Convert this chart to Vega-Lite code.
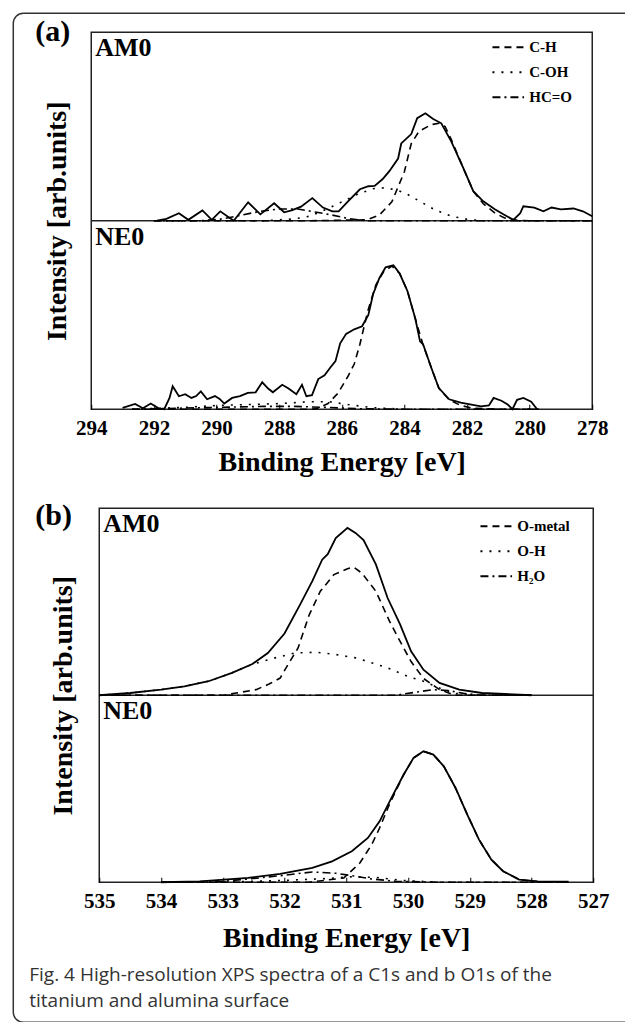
{
"$schema": "https://vega.github.io/schema/vega-lite/v6.json",
"padding": {"left": 11.25, "top": 11.25, "right": -16.75, "bottom": 0.25},
"autosize": {"type": "pad"},
"bounds": "flush",
"spacing": 99,
"resolve": {"scale": {"strokeDash": "independent"}, "legend": {"strokeDash": "independent"}},
"config": {
  "view": {"stroke": "#222", "strokeWidth": 1.5},
  "axis": {"grid": false},
  "font": "Liberation Serif"
},
"datasets": {
"aTot": [
{"s":"AM0","e":291.9,"y":1.0},{"s":"AM0","e":291.6,"y":1.01},{"s":"AM0","e":291.2,"y":1.04},{"s":"AM0","e":290.9,"y":1.005},{"s":"AM0","e":290.45,"y":1.055},{"s":"AM0","e":290.15,"y":1.005},{"s":"AM0","e":289.88,"y":1.05},{"s":"AM0","e":289.45,"y":1.0},{"s":"AM0","e":288.99,"y":1.098},{"s":"AM0","e":288.6,"y":1.034},{"s":"AM0","e":288.16,"y":1.093},{"s":"AM0","e":287.84,"y":1.045},{"s":"AM0","e":287.6,"y":1.055},{"s":"AM0","e":287.3,"y":1.075},{"s":"AM0","e":286.94,"y":1.12},{"s":"AM0","e":286.6,"y":1.07},{"s":"AM0","e":286.3,"y":1.05},{"s":"AM0","e":286.1,"y":1.05},{"s":"AM0","e":285.8,"y":1.103},{"s":"AM0","e":285.42,"y":1.167},{"s":"AM0","e":285.15,"y":1.183},{"s":"AM0","e":284.95,"y":1.185},{"s":"AM0","e":284.7,"y":1.22},{"s":"AM0","e":284.48,"y":1.263},{"s":"AM0","e":284.2,"y":1.33},{"s":"AM0","e":284.1,"y":1.41},{"s":"AM0","e":283.78,"y":1.46},{"s":"AM0","e":283.59,"y":1.544},{"s":"AM0","e":283.33,"y":1.57},{"s":"AM0","e":283.08,"y":1.54},{"s":"AM0","e":282.82,"y":1.517},{"s":"AM0","e":282.5,"y":1.42},{"s":"AM0","e":282.12,"y":1.28},{"s":"AM0","e":281.8,"y":1.157},{"s":"AM0","e":281.48,"y":1.103},{"s":"AM0","e":281.1,"y":1.06},{"s":"AM0","e":280.84,"y":1.034},{"s":"AM0","e":280.52,"y":1.005},{"s":"AM0","e":280.3,"y":1.04},{"s":"AM0","e":280.2,"y":1.077},{"s":"AM0","e":279.85,"y":1.07},{"s":"AM0","e":279.56,"y":1.05},{"s":"AM0","e":279.3,"y":1.07},{"s":"AM0","e":279.0,"y":1.06},{"s":"AM0","e":278.6,"y":1.065},{"s":"AM0","e":278.3,"y":1.05},{"s":"AM0","e":278.0,"y":1.024},
{"s":"NE0","e":293.0,"y":0.007},{"s":"NE0","e":292.6,"y":0.028},{"s":"NE0","e":292.35,"y":0.005},{"s":"NE0","e":292.1,"y":0.03},{"s":"NE0","e":291.85,"y":0.005},{"s":"NE0","e":291.67,"y":0.0},{"s":"NE0","e":291.5,"y":0.06},{"s":"NE0","e":291.4,"y":0.122},{"s":"NE0","e":291.2,"y":0.069},{"s":"NE0","e":291.0,"y":0.08},{"s":"NE0","e":290.8,"y":0.06},{"s":"NE0","e":290.65,"y":0.07},{"s":"NE0","e":290.5,"y":0.095},{"s":"NE0","e":290.3,"y":0.053},{"s":"NE0","e":290.05,"y":0.07},{"s":"NE0","e":289.9,"y":0.055},{"s":"NE0","e":289.75,"y":0.03},{"s":"NE0","e":289.5,"y":0.06},{"s":"NE0","e":289.25,"y":0.07},{"s":"NE0","e":289.0,"y":0.087},{"s":"NE0","e":288.75,"y":0.09},{"s":"NE0","e":288.54,"y":0.143},{"s":"NE0","e":288.35,"y":0.11},{"s":"NE0","e":288.2,"y":0.09},{"s":"NE0","e":287.9,"y":0.13},{"s":"NE0","e":287.7,"y":0.11},{"s":"NE0","e":287.45,"y":0.08},{"s":"NE0","e":287.27,"y":0.13},{"s":"NE0","e":287.13,"y":0.069},{"s":"NE0","e":286.95,"y":0.075},{"s":"NE0","e":286.75,"y":0.16},{"s":"NE0","e":286.55,"y":0.18},{"s":"NE0","e":286.37,"y":0.22},{"s":"NE0","e":286.2,"y":0.255},{"s":"NE0","e":286.05,"y":0.35},{"s":"NE0","e":285.86,"y":0.4},{"s":"NE0","e":285.6,"y":0.424},{"s":"NE0","e":285.35,"y":0.44},{"s":"NE0","e":285.15,"y":0.5},{"s":"NE0","e":285.0,"y":0.61},{"s":"NE0","e":284.8,"y":0.695},{"s":"NE0","e":284.6,"y":0.753},{"s":"NE0","e":284.35,"y":0.764},{"s":"NE0","e":284.15,"y":0.72},{"s":"NE0","e":283.9,"y":0.626},{"s":"NE0","e":283.65,"y":0.48},{"s":"NE0","e":283.5,"y":0.36},{"s":"NE0","e":283.4,"y":0.344},{"s":"NE0","e":283.14,"y":0.22},{"s":"NE0","e":282.9,"y":0.112},{"s":"NE0","e":282.57,"y":0.053},{"s":"NE0","e":282.2,"y":0.035},{"s":"NE0","e":281.86,"y":0.025},{"s":"NE0","e":281.55,"y":0.015},{"s":"NE0","e":281.3,"y":0.02},{"s":"NE0","e":281.15,"y":0.06},{"s":"NE0","e":280.9,"y":0.045},{"s":"NE0","e":280.7,"y":0.025},{"s":"NE0","e":280.55,"y":0.0},{"s":"NE0","e":280.4,"y":0.05},{"s":"NE0","e":280.2,"y":0.06},{"s":"NE0","e":279.95,"y":0.04},{"s":"NE0","e":279.76,"y":0.0}
],
"aComp": [
{"s":"AM0","c":"C-H","e":292,"y":1.0},{"s":"AM0","c":"C-H","e":287,"y":1.0},{"s":"AM0","c":"C-H","e":285.2,"y":1.005},{"s":"AM0","c":"C-H","e":284.8,"y":1.03},{"s":"AM0","c":"C-H","e":284.4,"y":1.1},{"s":"AM0","c":"C-H","e":284.0,"y":1.26},{"s":"AM0","c":"C-H","e":283.78,"y":1.41},{"s":"AM0","c":"C-H","e":283.53,"y":1.475},{"s":"AM0","c":"C-H","e":283.14,"y":1.51},{"s":"AM0","c":"C-H","e":282.89,"y":1.517},{"s":"AM0","c":"C-H","e":282.7,"y":1.5},{"s":"AM0","c":"C-H","e":282.5,"y":1.43},{"s":"AM0","c":"C-H","e":282.12,"y":1.28},{"s":"AM0","c":"C-H","e":281.8,"y":1.157},{"s":"AM0","c":"C-H","e":281.48,"y":1.09},{"s":"AM0","c":"C-H","e":281.1,"y":1.04},{"s":"AM0","c":"C-H","e":280.8,"y":1.015},{"s":"AM0","c":"C-H","e":280.4,"y":1.003},{"s":"AM0","c":"C-H","e":280.0,"y":1.0},{"s":"AM0","c":"C-H","e":278,"y":1.0},
{"s":"AM0","c":"C-OH","e":292,"y":1.0},{"s":"AM0","c":"C-OH","e":288.5,"y":1.0},{"s":"AM0","c":"C-OH","e":287.5,"y":1.01},{"s":"AM0","c":"C-OH","e":287.0,"y":1.025},{"s":"AM0","c":"C-OH","e":286.5,"y":1.06},{"s":"AM0","c":"C-OH","e":286.0,"y":1.1},{"s":"AM0","c":"C-OH","e":285.5,"y":1.14},{"s":"AM0","c":"C-OH","e":285.0,"y":1.17},{"s":"AM0","c":"C-OH","e":284.6,"y":1.175},{"s":"AM0","c":"C-OH","e":284.2,"y":1.16},{"s":"AM0","c":"C-OH","e":283.9,"y":1.14},{"s":"AM0","c":"C-OH","e":283.4,"y":1.093},{"s":"AM0","c":"C-OH","e":283.0,"y":1.056},{"s":"AM0","c":"C-OH","e":282.5,"y":1.024},{"s":"AM0","c":"C-OH","e":282.0,"y":1.008},{"s":"AM0","c":"C-OH","e":281.5,"y":1.0},{"s":"AM0","c":"C-OH","e":278,"y":1.0},
{"s":"AM0","c":"HC=O","e":292,"y":1.0},{"s":"AM0","c":"HC=O","e":290.5,"y":1.0},{"s":"AM0","c":"HC=O","e":289.8,"y":1.01},{"s":"AM0","c":"HC=O","e":289.2,"y":1.03},{"s":"AM0","c":"HC=O","e":288.6,"y":1.05},{"s":"AM0","c":"HC=O","e":288.0,"y":1.062},{"s":"AM0","c":"HC=O","e":287.4,"y":1.062},{"s":"AM0","c":"HC=O","e":286.8,"y":1.045},{"s":"AM0","c":"HC=O","e":286.3,"y":1.03},{"s":"AM0","c":"HC=O","e":285.8,"y":1.012},{"s":"AM0","c":"HC=O","e":285.2,"y":1.0},{"s":"AM0","c":"HC=O","e":278,"y":1.0},
{"s":"NE0","c":"C-H","e":292.7,"y":0},{"s":"NE0","c":"C-H","e":287,"y":0},{"s":"NE0","c":"C-H","e":286.82,"y":0.002},{"s":"NE0","c":"C-H","e":286.44,"y":0.03},{"s":"NE0","c":"C-H","e":286.12,"y":0.085},{"s":"NE0","c":"C-H","e":285.8,"y":0.175},{"s":"NE0","c":"C-H","e":285.6,"y":0.24},{"s":"NE0","c":"C-H","e":285.42,"y":0.345},{"s":"NE0","c":"C-H","e":285.17,"y":0.52},{"s":"NE0","c":"C-H","e":284.91,"y":0.66},{"s":"NE0","c":"C-H","e":284.66,"y":0.73},{"s":"NE0","c":"C-H","e":284.4,"y":0.76},{"s":"NE0","c":"C-H","e":284.15,"y":0.72},{"s":"NE0","c":"C-H","e":283.9,"y":0.626},{"s":"NE0","c":"C-H","e":283.65,"y":0.48},{"s":"NE0","c":"C-H","e":283.4,"y":0.34},{"s":"NE0","c":"C-H","e":283.14,"y":0.22},{"s":"NE0","c":"C-H","e":282.9,"y":0.112},{"s":"NE0","c":"C-H","e":282.57,"y":0.05},{"s":"NE0","c":"C-H","e":282.2,"y":0.02},{"s":"NE0","c":"C-H","e":281.8,"y":0.005},{"s":"NE0","c":"C-H","e":281,"y":0},{"s":"NE0","c":"C-H","e":279.7,"y":0},
{"s":"NE0","c":"C-OH","e":292.7,"y":0},{"s":"NE0","c":"C-OH","e":291,"y":0.01},{"s":"NE0","c":"C-OH","e":290,"y":0.02},{"s":"NE0","c":"C-OH","e":289,"y":0.025},{"s":"NE0","c":"C-OH","e":288,"y":0.03},{"s":"NE0","c":"C-OH","e":287,"y":0.04},{"s":"NE0","c":"C-OH","e":286.4,"y":0.04},{"s":"NE0","c":"C-OH","e":285.8,"y":0.025},{"s":"NE0","c":"C-OH","e":285,"y":0.008},{"s":"NE0","c":"C-OH","e":284,"y":0},{"s":"NE0","c":"C-OH","e":279.7,"y":0},
{"s":"NE0","c":"HC=O","e":292.7,"y":0},{"s":"NE0","c":"HC=O","e":290,"y":0.01},{"s":"NE0","c":"HC=O","e":288.5,"y":0.015},{"s":"NE0","c":"HC=O","e":287.5,"y":0.015},{"s":"NE0","c":"HC=O","e":286.5,"y":0.01},{"s":"NE0","c":"HC=O","e":285.5,"y":0.003},{"s":"NE0","c":"HC=O","e":284,"y":0},{"s":"NE0","c":"HC=O","e":279.7,"y":0}
],
"bTot": [
{"s":"AM0","e":535.0,"y":1.0},{"s":"AM0","e":534.5,"y":1.012},{"s":"AM0","e":534.0,"y":1.03},{"s":"AM0","e":533.62,"y":1.048},{"s":"AM0","e":533.23,"y":1.075},{"s":"AM0","e":532.85,"y":1.12},{"s":"AM0","e":532.52,"y":1.167},{"s":"AM0","e":532.27,"y":1.226},{"s":"AM0","e":532.0,"y":1.33},{"s":"AM0","e":531.75,"y":1.483},{"s":"AM0","e":531.55,"y":1.61},{"s":"AM0","e":531.39,"y":1.725},{"s":"AM0","e":531.3,"y":1.754},{"s":"AM0","e":531.17,"y":1.84},{"s":"AM0","e":530.98,"y":1.895},{"s":"AM0","e":530.85,"y":1.868},{"s":"AM0","e":530.72,"y":1.83},{"s":"AM0","e":530.52,"y":1.7},{"s":"AM0","e":530.33,"y":1.52},{"s":"AM0","e":530.13,"y":1.38},{"s":"AM0","e":529.95,"y":1.235},{"s":"AM0","e":529.75,"y":1.137},{"s":"AM0","e":529.49,"y":1.066},{"s":"AM0","e":529.17,"y":1.03},{"s":"AM0","e":528.8,"y":1.012},{"s":"AM0","e":528.0,"y":1.0},
{"s":"NE0","e":534.0,"y":0.0},{"s":"NE0","e":533.37,"y":0.005},{"s":"NE0","e":532.59,"y":0.023},{"s":"NE0","e":532.07,"y":0.045},{"s":"NE0","e":531.55,"y":0.077},{"s":"NE0","e":531.23,"y":0.112},{"s":"NE0","e":530.91,"y":0.166},{"s":"NE0","e":530.65,"y":0.237},{"s":"NE0","e":530.46,"y":0.326},{"s":"NE0","e":530.27,"y":0.45},{"s":"NE0","e":530.07,"y":0.576},{"s":"NE0","e":529.91,"y":0.665},{"s":"NE0","e":529.75,"y":0.7},{"s":"NE0","e":529.59,"y":0.683},{"s":"NE0","e":529.42,"y":0.62},{"s":"NE0","e":529.23,"y":0.504},{"s":"NE0","e":529.04,"y":0.362},{"s":"NE0","e":528.85,"y":0.228},{"s":"NE0","e":528.65,"y":0.121},{"s":"NE0","e":528.46,"y":0.059},{"s":"NE0","e":528.2,"y":0.014},{"s":"NE0","e":527.9,"y":0.005},{"s":"NE0","e":527.4,"y":0.003}
],
"bComp": [
{"s":"AM0","c":"O-metal","e":535,"y":1.0},{"s":"AM0","c":"O-metal","e":533,"y":1.0},{"s":"AM0","c":"O-metal","e":532.46,"y":1.03},{"s":"AM0","c":"O-metal","e":532.25,"y":1.06},{"s":"AM0","c":"O-metal","e":532.07,"y":1.092},{"s":"AM0","c":"O-metal","e":531.94,"y":1.166},{"s":"AM0","c":"O-metal","e":531.78,"y":1.253},{"s":"AM0","c":"O-metal","e":531.6,"y":1.43},{"s":"AM0","c":"O-metal","e":531.42,"y":1.556},{"s":"AM0","c":"O-metal","e":531.2,"y":1.645},{"s":"AM0","c":"O-metal","e":530.98,"y":1.677},{"s":"AM0","c":"O-metal","e":530.88,"y":1.685},{"s":"AM0","c":"O-metal","e":530.75,"y":1.654},{"s":"AM0","c":"O-metal","e":530.52,"y":1.556},{"s":"AM0","c":"O-metal","e":530.3,"y":1.396},{"s":"AM0","c":"O-metal","e":530.13,"y":1.289},{"s":"AM0","c":"O-metal","e":529.95,"y":1.18},{"s":"AM0","c":"O-metal","e":529.75,"y":1.09},{"s":"AM0","c":"O-metal","e":529.49,"y":1.03},{"s":"AM0","c":"O-metal","e":529.24,"y":1.0},{"s":"AM0","c":"O-metal","e":528,"y":1.0},
{"s":"AM0","c":"O-H","e":535,"y":1.0},{"s":"AM0","c":"O-H","e":534.5,"y":1.012},{"s":"AM0","c":"O-H","e":534.0,"y":1.03},{"s":"AM0","c":"O-H","e":533.62,"y":1.048},{"s":"AM0","c":"O-H","e":533.23,"y":1.075},{"s":"AM0","c":"O-H","e":532.85,"y":1.12},{"s":"AM0","c":"O-H","e":532.52,"y":1.166},{"s":"AM0","c":"O-H","e":532.15,"y":1.2},{"s":"AM0","c":"O-H","e":531.83,"y":1.226},{"s":"AM0","c":"O-H","e":531.49,"y":1.23},{"s":"AM0","c":"O-H","e":531.17,"y":1.218},{"s":"AM0","c":"O-H","e":530.85,"y":1.2},{"s":"AM0","c":"O-H","e":530.58,"y":1.173},{"s":"AM0","c":"O-H","e":530.33,"y":1.146},{"s":"AM0","c":"O-H","e":530.0,"y":1.1},{"s":"AM0","c":"O-H","e":529.75,"y":1.075},{"s":"AM0","c":"O-H","e":529.5,"y":1.04},{"s":"AM0","c":"O-H","e":529.24,"y":1.01},{"s":"AM0","c":"O-H","e":528.9,"y":1.0},{"s":"AM0","c":"O-H","e":528,"y":1.0},
{"s":"AM0","c":"H₂O","e":535,"y":1.0},{"s":"AM0","c":"H₂O","e":530.2,"y":1.0},{"s":"AM0","c":"H₂O","e":529.9,"y":1.015},{"s":"AM0","c":"H₂O","e":529.6,"y":1.03},{"s":"AM0","c":"H₂O","e":529.35,"y":1.025},{"s":"AM0","c":"H₂O","e":529.1,"y":1.01},{"s":"AM0","c":"H₂O","e":528.8,"y":1.0},{"s":"AM0","c":"H₂O","e":528,"y":1.0},
{"s":"NE0","c":"O-metal","e":534,"y":0},{"s":"NE0","c":"O-metal","e":531.6,"y":0},{"s":"NE0","c":"O-metal","e":531.04,"y":0.023},{"s":"NE0","c":"O-metal","e":530.78,"y":0.103},{"s":"NE0","c":"O-metal","e":530.59,"y":0.2},{"s":"NE0","c":"O-metal","e":530.46,"y":0.29},{"s":"NE0","c":"O-metal","e":530.3,"y":0.417},{"s":"NE0","c":"O-metal","e":530.07,"y":0.576},{"s":"NE0","c":"O-metal","e":529.91,"y":0.665},{"s":"NE0","c":"O-metal","e":529.75,"y":0.7},{"s":"NE0","c":"O-metal","e":529.59,"y":0.683},{"s":"NE0","c":"O-metal","e":529.42,"y":0.62},{"s":"NE0","c":"O-metal","e":529.23,"y":0.504},{"s":"NE0","c":"O-metal","e":529.04,"y":0.362},{"s":"NE0","c":"O-metal","e":528.85,"y":0.228},{"s":"NE0","c":"O-metal","e":528.65,"y":0.121},{"s":"NE0","c":"O-metal","e":528.46,"y":0.059},{"s":"NE0","c":"O-metal","e":528.2,"y":0.014},{"s":"NE0","c":"O-metal","e":527.9,"y":0.003},{"s":"NE0","c":"O-metal","e":527.4,"y":0},
{"s":"NE0","c":"O-H","e":534,"y":0},{"s":"NE0","c":"O-H","e":533,"y":0},{"s":"NE0","c":"O-H","e":532,"y":0.01},{"s":"NE0","c":"O-H","e":531.3,"y":0.02},{"s":"NE0","c":"O-H","e":530.9,"y":0.03},{"s":"NE0","c":"O-H","e":530.5,"y":0.025},{"s":"NE0","c":"O-H","e":530.1,"y":0.01},{"s":"NE0","c":"O-H","e":529.5,"y":0},{"s":"NE0","c":"O-H","e":527.4,"y":0},
{"s":"NE0","c":"H₂O","e":534,"y":0},{"s":"NE0","c":"H₂O","e":533,"y":0.005},{"s":"NE0","c":"H₂O","e":532.5,"y":0.02},{"s":"NE0","c":"H₂O","e":532.07,"y":0.035},{"s":"NE0","c":"H₂O","e":531.55,"y":0.055},{"s":"NE0","c":"H₂O","e":531.17,"y":0.048},{"s":"NE0","c":"H₂O","e":530.9,"y":0.035},{"s":"NE0","c":"H₂O","e":530.6,"y":0.018},{"s":"NE0","c":"H₂O","e":530.2,"y":0.005},{"s":"NE0","c":"H₂O","e":529.5,"y":0},{"s":"NE0","c":"H₂O","e":527.4,"y":0}
]
},
"vconcat": [
{
  "width": 501, "height": 377,
  "layer": [
    {"data": {"values": [{}]}, "mark": {"type": "rect", "filled": false, "stroke": "#333", "strokeWidth": 1.5, "cornerRadius": 10},
     "encoding": {"x": {"datum": 296.49, "type": "quantitative", "scale": {"domain": [278, 294], "reverse": true, "nice": false, "zero": false}}, "x2": {"datum": 276.4}, "y": {"datum": 2.1008, "type": "quantitative", "scale": {"domain": [0, 2], "nice": false, "zero": false}}, "y2": {"datum": -3.252}}},
    {"data": {"values": [{}]}, "mark": {"type": "rule", "stroke": "#222", "strokeWidth": 1.5},
     "encoding": {"y": {"datum": 1, "type": "quantitative"}}},
    {"data": {"name": "aTot"}, "mark": {"type": "line", "color": "black", "strokeWidth": 1.8},
     "encoding": {
       "x": {"field": "e", "type": "quantitative", "scale": {"domain": [278, 294], "reverse": true, "nice": false, "zero": false},
             "axis": {"title": "Binding Energy [eV]", "values": [278,279,280,281,282,283,284,285,286,287,288,289,290,291,292,293,294], "format": "d", "labelExpr": "datum.value % 2 === 0 ? datum.label : ''", "labelFlush": false, "labelOverlap": false, "domain": false, "tickSize": -5, "tickColor": "black", "labelPadding": 13, "labelFont": "Liberation Serif", "labelFontSize": 21, "labelFontWeight": "bold", "labelColor": "black", "titleFont": "Liberation Serif", "titleFontSize": 28, "titleFontWeight": "bold", "titleColor": "black", "titlePadding": 10}},
       "y": {"field": "y", "type": "quantitative", "scale": {"domain": [0, 2], "nice": false, "zero": false},
             "axis": {"title": "Intensity [arb.units]", "labels": false, "ticks": false, "domain": false, "titleFont": "Liberation Serif", "titleFontSize": 28, "titleFontWeight": "bold", "titleColor": "black", "titlePadding": 20}},
       "detail": {"field": "s"}
     }},
    {"data": {"name": "aComp"}, "mark": {"type": "line", "color": "black", "strokeWidth": 1.6},
     "encoding": {
       "x": {"field": "e", "type": "quantitative", "scale": {"domain": [278, 294], "reverse": true, "nice": false, "zero": false},
             "axis": {"title": "Binding Energy [eV]", "values": [278,279,280,281,282,283,284,285,286,287,288,289,290,291,292,293,294], "format": "d", "labelExpr": "datum.value % 2 === 0 ? datum.label : ''", "labelFlush": false, "labelOverlap": false, "domain": false, "tickSize": -5, "tickColor": "black", "labelPadding": 13, "labelFont": "Liberation Serif", "labelFontSize": 21, "labelFontWeight": "bold", "labelColor": "black", "titleFont": "Liberation Serif", "titleFontSize": 28, "titleFontWeight": "bold", "titleColor": "black", "titlePadding": 10}},
       "y": {"field": "y", "type": "quantitative", "scale": {"domain": [0, 2], "nice": false, "zero": false},
             "axis": {"title": "Intensity [arb.units]", "labels": false, "ticks": false, "domain": false, "titleFont": "Liberation Serif", "titleFontSize": 28, "titleFontWeight": "bold", "titleColor": "black", "titlePadding": 20}},
       "detail": {"field": "s"},
       "strokeDash": {"field": "c", "type": "nominal",
         "scale": {"domain": ["C-H", "C-OH", "HC=O"], "range": [[7, 5], [2, 7], [8, 4, 2, 4]]},
         "legend": {"title": null, "orient": "none", "legendX": 400, "legendY": -2, "symbolType": "stroke", "symbolSize": 1000, "symbolStrokeWidth": 1.8, "symbolStrokeColor": "black", "labelFont": "Liberation Serif", "labelFontSize": 15, "labelFontWeight": "bold", "labelColor": "black", "rowPadding": -7, "padding": 0, "labelOffset": 4}}
     }},
    {"data": {"values": [{}]}, "mark": {"type": "text", "text": "AM0", "align": "left", "baseline": "top", "dx": 4, "dy": 3, "font": "Liberation Serif", "fontSize": 26, "fontWeight": "bold", "color": "black"},
     "encoding": {"x": {"datum": 294, "type": "quantitative"}, "y": {"datum": 2, "type": "quantitative"}}},
    {"data": {"values": [{}]}, "mark": {"type": "text", "text": "NE0", "align": "left", "baseline": "top", "dx": 4, "dy": 3, "font": "Liberation Serif", "fontSize": 26, "fontWeight": "bold", "color": "black"},
     "encoding": {"x": {"datum": 294, "type": "quantitative"}, "y": {"datum": 1, "type": "quantitative"}}},
    {"data": {"values": [{}]}, "mark": {"type": "text", "text": "(a)", "align": "left", "baseline": "middle", "dx": -56, "dy": 0, "font": "Liberation Serif", "fontSize": 30, "fontWeight": "bold", "color": "black"},
     "encoding": {"x": {"datum": 294, "type": "quantitative"}, "y": {"datum": 2, "type": "quantitative"}}}
  ]
},
{
  "hconcat": [
    {"width": 8, "height": 374, "data": {"values": []}, "mark": "point", "view": {"stroke": null}},
    {
      "width": 494, "height": 374,
      "title": {"text": ["Fig. 4 High-resolution XPS spectra of a C1s and b O1s of the", "titanium and alumina surface"], "orient": "bottom", "anchor": "start", "frame": "group", "offset": 14, "dx": -70, "font": "Open Sans", "fontSize": 19, "fontWeight": "normal", "color": "#333", "lineHeight": 26, "baseline": "top"},
      "layer": [
        {"data": {"values": [{}]}, "mark": {"type": "rule", "stroke": "#222", "strokeWidth": 1.5},
         "encoding": {"y": {"datum": 1, "type": "quantitative", "scale": {"domain": [0, 2], "nice": false, "zero": false}}}},
        {"data": {"name": "bTot"}, "mark": {"type": "line", "color": "black", "strokeWidth": 1.8},
         "encoding": {
           "x": {"field": "e", "type": "quantitative", "scale": {"domain": [527, 535], "reverse": true, "nice": false, "zero": false},
                 "axis": {"title": "Binding Energy [eV]", "values": [527,527.5,528,528.5,529,529.5,530,530.5,531,531.5,532,532.5,533,533.5,534,534.5,535], "format": "d", "labelExpr": "datum.value % 1 === 0 ? datum.label : ''", "labelFlush": false, "labelOverlap": false, "domain": false, "tickSize": -5, "tickColor": "black", "labelPadding": 13, "labelFont": "Liberation Serif", "labelFontSize": 21, "labelFontWeight": "bold", "labelColor": "black", "titleFont": "Liberation Serif", "titleFontSize": 28, "titleFontWeight": "bold", "titleColor": "black", "titlePadding": 13}},
           "y": {"field": "y", "type": "quantitative", "scale": {"domain": [0, 2], "nice": false, "zero": false},
                 "axis": {"title": "Intensity [arb.units]", "labels": false, "ticks": false, "domain": false, "titleFont": "Liberation Serif", "titleFontSize": 28, "titleFontWeight": "bold", "titleColor": "black", "titlePadding": 22}},
           "detail": {"field": "s"}
         }},
        {"data": {"name": "bComp"}, "mark": {"type": "line", "color": "black", "strokeWidth": 1.6},
         "encoding": {
           "x": {"field": "e", "type": "quantitative", "scale": {"domain": [527, 535], "reverse": true, "nice": false, "zero": false},
                 "axis": {"title": "Binding Energy [eV]", "values": [527,527.5,528,528.5,529,529.5,530,530.5,531,531.5,532,532.5,533,533.5,534,534.5,535], "format": "d", "labelExpr": "datum.value % 1 === 0 ? datum.label : ''", "labelFlush": false, "labelOverlap": false, "domain": false, "tickSize": -5, "tickColor": "black", "labelPadding": 13, "labelFont": "Liberation Serif", "labelFontSize": 21, "labelFontWeight": "bold", "labelColor": "black", "titleFont": "Liberation Serif", "titleFontSize": 28, "titleFontWeight": "bold", "titleColor": "black", "titlePadding": 13}},
           "y": {"field": "y", "type": "quantitative", "scale": {"domain": [0, 2], "nice": false, "zero": false},
                 "axis": {"title": "Intensity [arb.units]", "labels": false, "ticks": false, "domain": false, "titleFont": "Liberation Serif", "titleFontSize": 28, "titleFontWeight": "bold", "titleColor": "black", "titlePadding": 22}},
           "detail": {"field": "s"},
           "strokeDash": {"field": "c", "type": "nominal",
             "scale": {"domain": ["O-metal", "O-H", "H₂O"], "range": [[7, 5], [2, 7], [8, 4, 2, 4]]},
             "legend": {"title": null, "orient": "none", "legendX": 380, "legendY": 1, "symbolType": "stroke", "symbolSize": 1000, "symbolStrokeWidth": 1.8, "symbolStrokeColor": "black", "labelFont": "Liberation Serif", "labelFontSize": 15, "labelFontWeight": "bold", "labelColor": "black", "rowPadding": -7, "padding": 0, "labelOffset": 4}}
         }},
        {"data": {"values": [{}]}, "mark": {"type": "text", "text": "AM0", "align": "left", "baseline": "top", "dx": 4, "dy": 3, "font": "Liberation Serif", "fontSize": 26, "fontWeight": "bold", "color": "black"},
         "encoding": {"x": {"datum": 535, "type": "quantitative"}, "y": {"datum": 2, "type": "quantitative"}}},
        {"data": {"values": [{}]}, "mark": {"type": "text", "text": "NE0", "align": "left", "baseline": "top", "dx": 4, "dy": 3, "font": "Liberation Serif", "fontSize": 26, "fontWeight": "bold", "color": "black"},
         "encoding": {"x": {"datum": 535, "type": "quantitative"}, "y": {"datum": 1, "type": "quantitative"}}},
        {"data": {"values": [{}]}, "mark": {"type": "text", "text": "(b)", "align": "left", "baseline": "middle", "dx": -64, "dy": 8, "font": "Liberation Serif", "fontSize": 30, "fontWeight": "bold", "color": "black"},
         "encoding": {"x": {"datum": 535, "type": "quantitative"}, "y": {"datum": 2, "type": "quantitative"}}}
      ]
    }
  ],
  "spacing": 0,
  "bounds": "flush",
  "resolve": {"scale": {"strokeDash": "independent"}, "legend": {"strokeDash": "independent"}}
}
]
}
